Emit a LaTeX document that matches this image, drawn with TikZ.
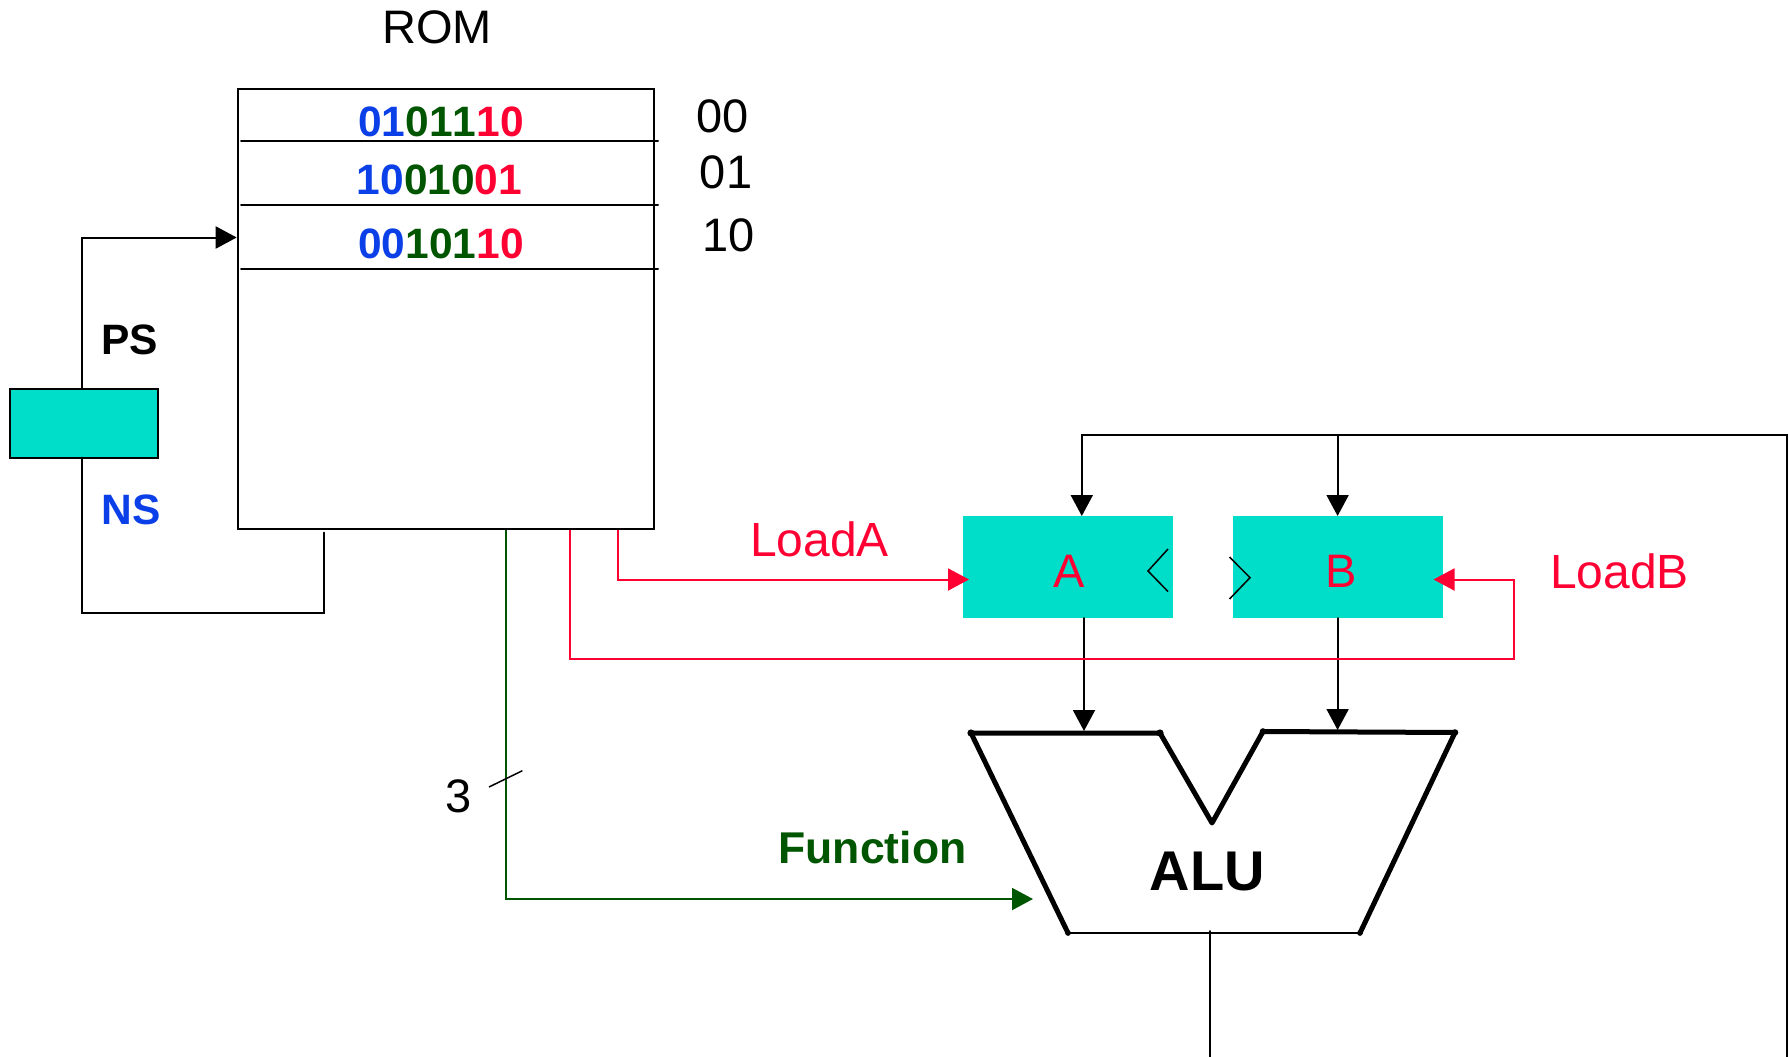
\documentclass[tikz,border=0pt]{standalone}
\usepackage{fontspec}
\setmainfont[Kerning=Off]{Liberation Sans}
\usetikzlibrary{arrows.meta}
\definecolor{cblue}{HTML}{0B3FE8}
\definecolor{cgreen}{HTML}{005500}
\definecolor{cred}{HTML}{FF0033}
\definecolor{cteal}{HTML}{00DDC8}
\newcommand{\fsz}[1]{\fontsize{#1}{#1}\selectfont}
\newcommand{\bitrow}[3]{\textcolor{cblue}{#1}\textcolor{cgreen}{#2}\textcolor{cred}{#3}}
\tikzset{
  thinline/.style={line width=2pt,line cap=round,line join=miter},
  tipped/.style={-{Triangle[length=21pt,width=22pt]}},
  boxnode/.style={inner sep=0pt,outer sep=0pt,anchor=center},
  labelreg/.style={inner sep=0pt,outer sep=0pt,anchor=center,font=\fsz{47}},
  labelbold/.style={inner sep=0pt,outer sep=0pt,anchor=center,font=\fsz{42.5}\bfseries},
  alueedge/.style={line width=5pt,line cap=round,line join=round},
}
\begin{document}
\begin{tikzpicture}[x=1pt,y=-1pt]
\useasboundingbox (0,0) rectangle (1789,1057);
% ROM
\node[boxnode,draw,line width=2pt,minimum width=416.2pt,minimum height=440.4pt] (rom) at (445.9,309.2) {};
\node[labelreg] (romlabel) at (437,27) {ROM};
\draw[thinline] (241,141.2) -- (658,141.2);
\draw[thinline] (241,205.3) -- (658,205.3);
\draw[thinline] (241,269.4) -- (658,269.4);
\node[labelbold] (row0) at (441,122) {\bitrow{01}{011}{10}};
\node[labelbold] (row1) at (439.5,180) {\bitrow{10}{010}{01}};
\node[labelbold] (row2) at (441,244) {\bitrow{00}{101}{10}};
\node[labelreg] (addr0) at (723,116) {00};
\node[labelreg] (addr1) at (726,172) {01};
\node[labelreg] (addr2) at (728.5,235.5) {10};
% state register
\node[boxnode,draw,line width=2pt,fill=cteal,minimum width=148.3pt,minimum height=68.6pt] (psreg) at (83.8,423.3) {};
\node[labelbold] (pslabel) at (129.5,339.5) {PS};
\node[labelbold,text=cblue] (nslabel) at (131,509.5) {NS};
\coordinate (psout) at (81.6,389);
\coordinate (pscorner) at (81.6,237.5);
\coordinate (romin) at (236.7,237.5);
\coordinate (nsin) at (81.6,457.6);
\coordinate (nscornerA) at (81.6,613);
\coordinate (nscornerB) at (323.5,613);
\coordinate (nsout) at (323.5,532.6);
\draw[thinline,tipped] (psout) -- (pscorner) -- (romin);
\draw[thinline] (nsin) -- (nscornerA) -- (nscornerB) -- (nsout);
% registers
\node[boxnode,fill=cteal,minimum width=210.8pt,minimum height=101.7pt] (rega) at (1067.9,567.2) {};
\node[boxnode,fill=cteal,minimum width=210.2pt,minimum height=101.7pt] (regb) at (1337.6,567.2) {};
\node[labelreg,text=cred] (atext) at (1069,571) {A};
\node[labelreg,text=cred] (btext) at (1341,571) {B};
\draw[line width=1.5pt] (1168,549) -- (1148,571) -- (1168,591.5);
\draw[line width=1.5pt] (1229.5,557) -- (1250,577.7) -- (1229.5,599);
% ALU
\coordinate (al) at (971,733);
\coordinate (am) at (1160,733);
\coordinate (av) at (1212,823);
\coordinate (bm) at (1263,731.5);
\coordinate (br) at (1455,732.5);
\coordinate (cr) at (1360,933);
\coordinate (cl) at (1068,933);
\draw[alueedge] (al) -- (am) -- (av) -- (bm) -- (br) -- (cr);
\draw[alueedge] (al) -- (cl);
\fill (al) circle (3.6pt) (am) circle (3.6pt) (bm) circle (3.3pt) (br) circle (3.3pt) (cl) circle (2.8pt) (cr) circle (2.8pt);
\draw[line width=2pt] (cl) -- (cr);
\node[inner sep=0pt,outer sep=0pt,font=\fsz{56}\bfseries] (alutext) at (1207.5,871.5) {ALU};
% feedback bus
\coordinate (aluout) at (1210,931);
\coordinate (bottom) at (1210,1057);
\coordinate (busend) at (1786.5,1057);
\coordinate (buscorner) at (1786.5,435);
\coordinate (busb) at (1337.6,435);
\coordinate (busa) at (1081.8,435);
\coordinate (atop) at (1081.8,516);
\coordinate (btop) at (1337.6,516);
\draw[thinline] (aluout) -- (bottom);
\draw[thinline,tipped] (busend) -- (buscorner) -- (busa) -- (atop);
\draw[thinline,tipped] (busb) -- (btop);
% register outputs
\coordinate (aout) at (1084,618);
\coordinate (ain) at (1084,731);
\coordinate (bout) at (1337.6,618);
\coordinate (bin) at (1337.6,730);
\draw[thinline,tipped] (aout) -- (ain);
\draw[thinline,tipped] (bout) -- (bin);
% load signals
\coordinate (la0) at (617.5,530);
\coordinate (la1) at (617.5,579.5);
\coordinate (la2) at (969,579.5);
\draw[thinline,cred,line cap=butt,tipped] (la0) -- (la1) -- (la2);
\coordinate (lb0) at (569.5,530);
\coordinate (lb1) at (569.5,659.3);
\coordinate (lb2) at (1514,659.3);
\coordinate (lb3) at (1514,579.5);
\coordinate (lb4) at (1433.5,579.5);
\draw[thinline,cred,line cap=butt,tipped] (lb0) -- (lb1) -- (lb2) -- (lb3) -- (lb4);
\node[labelreg,text=cred,font=\fsz{48}] (loada) at (819.5,539.5) {LoadA};
\node[labelreg,text=cred,font=\fsz{48}] (loadb) at (1619.5,571.5) {LoadB};
% function
\coordinate (f0) at (505.8,530);
\coordinate (f1) at (505.8,899);
\coordinate (f2) at (1033,899);
\draw[thinline,cgreen,line cap=butt,tipped] (f0) -- (f1) -- (f2);
\node[inner sep=0pt,outer sep=0pt,text=cgreen,font=\fsz{44.5}\bfseries] (functext) at (872.5,848) {Function};
\coordinate (tick0) at (489,787);
\coordinate (tick1) at (522.4,770.7);
\draw[line width=1.5pt] (tick0) -- (tick1);
\node[labelreg] (width) at (458.5,796) {3};
\end{tikzpicture}
\end{document}
